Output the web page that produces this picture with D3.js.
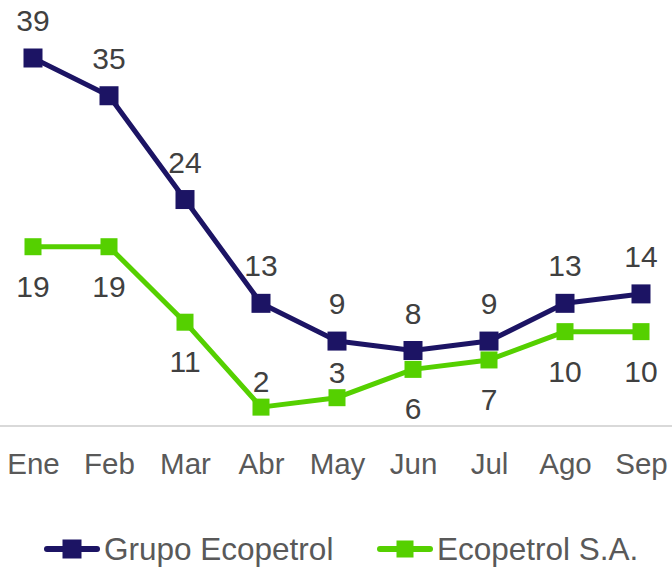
<html>
<script src="https://d3js.org/d3.v7.min.js"></script>
<style>
  body { margin:0; background:#fff; }
  text { font-family: "Liberation Sans", Arial, sans-serif; }
</style>
<body>
<svg id="plot"></svg>
<script>

// data
var months = ["Ene","Feb","Mar","Abr","May","Jun","Jul","Ago","Sep"];
var grupo = [39,35,24,13,9,8,9,13,14];
var ecoSA = [19,19,11,2,3,6,7,10,10];
// where the green labels sit
var ecoSAPos = ["below","below","below","above","above","below","below","below","below"];

var seriesNames = ["Grupo Ecopetrol","Ecopetrol S.A."];
var blue = "#1c1464";
var green = "#55d000";

var screen = {width:672, height:567};

var svg = d3.select("#plot")
    .attr("width",screen.width)
    .attr("height",screen.height);

//scales
var xScale = d3.scalePoint()
    .domain(months)
    .range([33,641]);

var yScale = d3.scaleLinear()
    .domain([0,39])
    .range([426,58]);

//axis baseline
svg.append("line")
    .attr("x1",0)
    .attr("x2",screen.width)
    .attr("y1",yScale(0))
    .attr("y2",yScale(0))
    .attr("stroke","#d9d9d9")
    .attr("stroke-width",2);

//x labels
var xAxis = d3.axisBottom(xScale).tickSize(0).tickPadding(0);
var ax = svg.append("g")
    .attr("transform","translate(0,453)")
    .call(xAxis);
ax.select(".domain").remove();
ax.selectAll("text")
    .attr("dy","0.71em")
    .attr("y",0)
    .style("font-family","Liberation Sans, Arial, sans-serif")
    .style("font-size","29.5px")
    .attr("fill","#595959");

var lineGenerator = d3.line()
    .x(function(d,i) { return xScale(months[i]); })
    .y(function(d) { return yScale(d); });

var drawSeries = function(values, color, lw, size)
{
    svg.append("path")
        .datum(values)
        .attr("d",lineGenerator)
        .attr("fill","none")
        .attr("stroke",color)
        .attr("stroke-width",lw)
        .attr("stroke-linejoin","round");

    svg.append("g")
        .selectAll("rect")
        .data(values)
        .enter()
        .append("rect")
        .attr("x",function(d,i) { return xScale(months[i]) - size/2; })
        .attr("y",function(d) { return yScale(d) - size/2; })
        .attr("width",size)
        .attr("height",size)
        .attr("fill",color);
}

drawSeries(ecoSA, green, 5, 17);
drawSeries(grupo, blue, 5, 19);

//data labels
svg.append("g")
    .selectAll("text")
    .data(grupo)
    .enter()
    .append("text")
    .text(function(d) { return d; })
    .attr("x",function(d,i) { return xScale(months[i]); })
    .attr("y",function(d) { return yScale(d) - 27; })
    .attr("text-anchor","middle")
    .attr("font-size",30)
    .attr("fill","#404040");

svg.append("g")
    .selectAll("text")
    .data(ecoSA)
    .enter()
    .append("text")
    .text(function(d) { return d; })
    .attr("x",function(d,i) { return xScale(months[i]); })
    .attr("y",function(d,i) { return ecoSAPos[i]=="above" ? yScale(d) - 15 : yScale(d) + 50; })
    .attr("text-anchor","middle")
    .attr("font-size",30)
    .attr("fill","#404040");

//legend
var legend = svg.append("g");
var legendItems = [
    {name:seriesNames[0], color:blue, x:44, size:19},
    {name:seriesNames[1], color:green, x:377, size:17}
];
legendItems.forEach(function(it)
{
    legend.append("line")
        .attr("x1",it.x+3).attr("x2",it.x+53)
        .attr("y1",549).attr("y2",549)
        .attr("stroke",it.color)
        .attr("stroke-width",6)
        .attr("stroke-linecap","round");
    legend.append("rect")
        .attr("x",it.x+28-it.size/2)
        .attr("y",549-it.size/2)
        .attr("width",it.size)
        .attr("height",it.size)
        .attr("fill",it.color);
    legend.append("text")
        .text(it.name)
        .attr("x",it.x+60)
        .attr("y",560)
        .attr("font-size",31.5)
        .attr("fill","#595959");
});

</script>
</body>
</html>
